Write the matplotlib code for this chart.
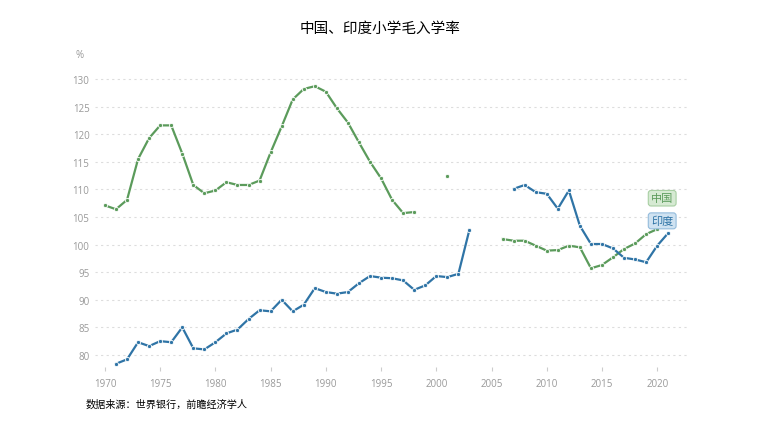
import numpy as np
import matplotlib.pyplot as plt

plt.rcParams['font.family'] = ['Open Sans', 'Noto Sans CJK SC', 'DejaVu Sans']

nan = np.nan
years = list(range(1970, 2022))

# China gross primary enrollment, %
china = [107.1, 106.4, 108.1, 115.5, 119.3, 121.6, 121.6, 116.5, 110.8, 109.3,
         109.8, 111.3, 110.8, 110.8, 111.6, 116.7, 121.4, 126.3, 128.2, 128.7,
         127.7, 124.7, 122.1, 118.5, 115.0, 112.0, 108.1, 105.7, 105.9, nan,
         nan, 112.5, nan, nan, nan, nan, 101.0, 100.7, 100.7, 99.8,
         98.9, 99.0, 99.8, 99.5, 95.7, 96.3, 97.7, 99.2, 100.2, 101.9,
         102.8, nan]

# India gross primary enrollment, %
india = [nan, 78.4, 79.2, 82.3, 81.6, 82.5, 82.3, 85.0, 81.2, 81.0,
         82.3, 83.9, 84.6, 86.5, 88.1, 87.9, 90.0, 87.9, 89.1, 92.1,
         91.4, 91.1, 91.4, 93.0, 94.3, 94.0, 93.9, 93.5, 91.8, 92.6,
         94.3, 94.1, 94.7, 102.7, nan, nan, nan, 110.1, 110.8, 109.5,
         109.2, 106.5, 109.8, 103.4, 100.1, 100.1, 99.3, 97.6, 97.3, 96.8,
         99.8, 102.1]

green = '#5b9b5b'
blue = '#2f74a6'

fig = plt.figure(figsize=(7.6, 4.27), dpi=100)
ax = fig.add_axes([0.125, 0.138, 0.779, 0.6875])

for vals, c in [(china, green), (india, blue)]:
    ax.plot(years, vals, color=c, lw=1.6, marker='o', ms=3.0,
            mfc=c, mec='white', mew=0.6, zorder=3)

ax.set_xlim(1969.1, 2022.7)
ax.set_ylim(77.8, 131)
ax.set_xticks(range(1970, 2021, 5))
ax.set_yticks(range(80, 131, 5))
ax.grid(axis='y', color='#dddddd', ls=(0, (2, 3)), lw=0.8)
for s in ax.spines.values():
    s.set_visible(False)
ax.tick_params(axis='y', length=0, colors='#999999', labelsize=7, pad=4)
ax.tick_params(axis='x', length=3, color='#cccccc', colors='#999999', labelsize=7, pad=5)

ax.text(2020.45, 108.4, '中国', color=green, fontsize=8, ha='center', va='center',
        family=['Noto Sans CJK SC'],
        bbox=dict(boxstyle='round,pad=0.25', fc='#d6ead3', ec='#a8cfa3', lw=0.8))
ax.text(2020.45, 104.3, '印度', color=blue, fontsize=8, ha='center', va='center',
        family=['Noto Sans CJK SC'],
        bbox=dict(boxstyle='round,pad=0.25', fc='#cfe2f1', ec='#94bcdc', lw=0.8))

fig.text(0.1, 0.871, '%', color='#999999', fontsize=7, ha='left', va='center')
fig.text(0.5, 0.932, '中国、印度小学毛入学率', fontsize=10.5, ha='center', va='center',
         family=['Noto Sans CJK SC'])
fig.text(0.112, 0.052, '数据来源：世界银行，前瞻经济学人', fontsize=7.3, ha='left', va='center',
         family=['Noto Sans CJK SC'])

fig.savefig('out.png', dpi=100)
